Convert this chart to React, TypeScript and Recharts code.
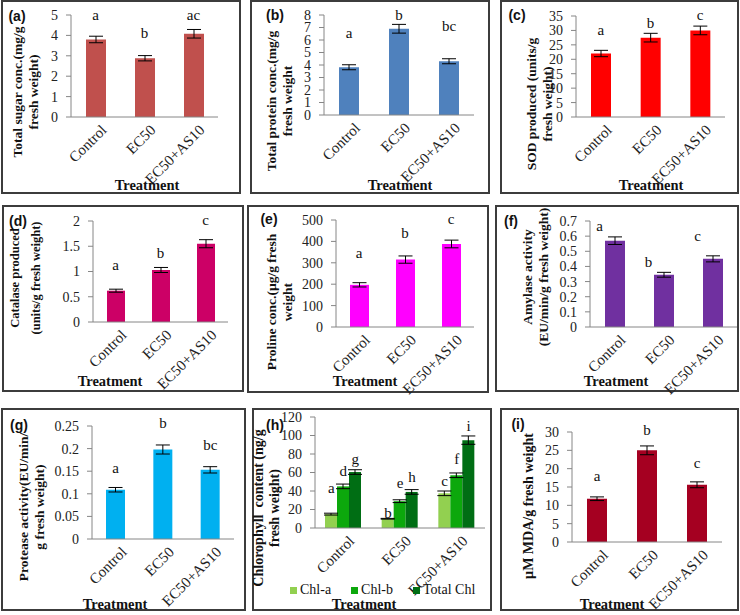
import React from 'react'
import { BarChart, Bar, XAxis, YAxis, ErrorBar, ReferenceDot } from 'recharts'

// 3x3 grid of small Excel-style bar charts (a)–(i), one per measurement.

const SERIF = '"Liberation Serif", "Times New Roman", Times, "DejaVu Serif", serif'
const SANS = '"Liberation Sans", Arial, sans-serif'
const AXIS = '#868686'

const TREATMENTS = ['Control', 'EC50', 'EC50+AS10']

// (a) total sugar
const SUGAR = [3.8, 2.88, 4.08]
const SUGAR_ERR = [0.16, 0.13, 0.21]
const SUGAR_LETTERS = ['a', 'b', 'ac']
const SUGAR_LETTER_AT = [5.0, 4.1, 5.0]
const SUGAR_TICKS = [0, 1, 2, 3, 4, 5]

// (b) total protein
const PROTEIN = [3.82, 6.9, 4.3]
const PROTEIN_ERR = [0.2, 0.35, 0.2]
const PROTEIN_LETTERS = ['a', 'b', 'bc']
const PROTEIN_LETTER_AT = [6.55, 8.0, 7.1]
const PROTEIN_TICKS = [0, 1, 2, 3, 4, 5, 6, 7, 8]

// (c) SOD
const SOD = [22, 27.5, 30]
const SOD_ERR = [1.1, 1.5, 1.5]
const SOD_LETTERS = ['a', 'b', 'c']
const SOD_LETTER_AT = [30.1, 32.6, 35.3]
const SOD_TICKS = [0, 5, 10, 15, 20, 25, 30, 35]

// (d) catalase
const CATALASE = [0.62, 1.03, 1.55]
const CATALASE_ERR = [0.03, 0.05, 0.08]
const CATALASE_LETTERS = ['a', 'b', 'c']
const CATALASE_LETTER_AT = [1.13, 1.37, 2.02]
const CATALASE_TICKS = [0, 0.5, 1, 1.5, 2]

// (e) proline
const PROLINE = [197, 315, 388]
const PROLINE_ERR = [10, 17, 18]
const PROLINE_LETTERS = ['a', 'b', 'c']
const PROLINE_LETTER_AT = [346, 439, 505]
const PROLINE_TICKS = [0, 100, 200, 300, 400, 500]

// (f) amylase
const AMYLASE = [0.57, 0.345, 0.45]
const AMYLASE_ERR = [0.025, 0.016, 0.02]
const AMYLASE_LETTERS = ['a', 'b', 'c']
const AMYLASE_LETTER_AT = [0.667, 0.43, 0.6]
const AMYLASE_TICKS = [0, 0.1, 0.2, 0.3, 0.4, 0.5, 0.6, 0.7]

// (g) protease
const PROTEASE = [0.109, 0.198, 0.153]
const PROTEASE_ERR = [0.005, 0.01, 0.007]
const PROTEASE_LETTERS = ['a', 'b', 'bc']
const PROTEASE_LETTER_AT = [0.157, 0.257, 0.208]
const PROTEASE_TICKS = [0, 0.05, 0.1, 0.15, 0.2, 0.25]

// (h) chlorophyll, three series
const CHL_A = [15, 10, 37.5]
const CHL_A_ERR = [1, 0.4, 2.5]
const CHL_A_LETTERS = ['a', 'b', 'c']
const CHL_A_LETTER_AT = [43, 16, 51]
const CHL_B = [45, 29, 57]
const CHL_B_ERR = [2.5, 1.5, 2.5]
const CHL_B_LETTERS = ['d', 'e', 'f']
const CHL_B_LETTER_AT = [62, 49, 75]
const CHL_T = [60.5, 39, 95]
const CHL_T_ERR = [2.5, 2.5, 4.5]
const CHL_T_LETTERS = ['g', 'h', 'i']
const CHL_T_LETTER_AT = [75, 55, 110]
const CHL_TICKS = [0, 20, 40, 60, 80, 100, 120]

// (i) MDA
const MDA = [11.8, 25, 15.6]
const MDA_ERR = [0.5, 1.2, 0.8]
const MDA_LETTERS = ['a', 'b', 'c']
const MDA_LETTER_AT = [18, 30.5, 21.5]
const MDA_TICKS = [0, 5, 10, 15, 20, 25, 30]

type Series = {
  key: string
  name: string
  values: number[]
  errors: number[]
  letters: string[]
  letterAt: number[]
  color: string
}

type Panel = {
  tag: string
  box: [number, number, number, number] // x, y, w, h (page)
  plot: [number, number, number, number] // x0, x1, yTop, yBottom (page)
  ticks: number[]
  series: Series[]
  barSize: number
  title: string[]
  titleAt: [number, number]
  titleGap?: number
  titleSize?: number
  tagAt: [number, number]
  treatAt: [number, number]
  letterDx?: number
  legendAt?: [number, number]
}

const one = (values: number[], errors: number[], letters: string[], letterAt: number[], color: string): Series[] => [
  { key: 'v', name: 'v', values, errors, letters, letterAt, color },
]

const PANELS: Panel[] = [
  {
    tag: '(a)', box: [1, 0, 240, 194], plot: [71, 218, 15, 117], ticks: SUGAR_TICKS,
    series: one(SUGAR, SUGAR_ERR, SUGAR_LETTERS, SUGAR_LETTER_AT, '#C0504D'), barSize: 20,
    title: ['Total sugar conc.(mg/g', 'fresh weight)'], titleAt: [26, 92], tagAt: [17, 16], treatAt: [147, 185],
  },
  {
    tag: '(b)', box: [250, 0, 240, 194], plot: [324, 474, 15, 115], ticks: PROTEIN_TICKS,
    series: one(PROTEIN, PROTEIN_ERR, PROTEIN_LETTERS, PROTEIN_LETTER_AT, '#4F81BD'), barSize: 20,
    title: ['Total protein conc.(mg/g', 'fresh weight'], titleAt: [280, 101], tagAt: [275, 15], treatAt: [400, 185],
  },
  {
    tag: '(c)', box: [500, 0, 239, 194], plot: [576, 725, 16, 117], ticks: SOD_TICKS,
    series: one(SOD, SOD_ERR, SOD_LETTERS, SOD_LETTER_AT, '#FF0000'), barSize: 20,
    title: ['SOD produced (units/g', 'fresh weight)'], titleAt: [540, 104], tagAt: [517, 15], treatAt: [651, 185],
  },
  {
    tag: '(d)', box: [2, 205, 242, 187], plot: [93, 228, 221, 322], ticks: CATALASE_TICKS,
    series: one(CATALASE, CATALASE_ERR, CATALASE_LETTERS, CATALASE_LETTER_AT, '#CC0066'), barSize: 18,
    title: ['Catalase produced', '(units/g fresh weight)'], titleAt: [26, 278], titleGap: 21, titleSize: 12.5,
    tagAt: [18, 221], treatAt: [110, 381],
  },
  {
    tag: '(e)', box: [247, 205, 242, 188], plot: [336, 474, 220, 327], ticks: PROLINE_TICKS,
    series: one(PROLINE, PROLINE_ERR, PROLINE_LETTERS, PROLINE_LETTER_AT, '#FF00FF'), barSize: 19,
    title: ['Proline conc.(µg/g fresh', 'weight'], titleAt: [280, 302], tagAt: [269, 219], treatAt: [365, 381],
  },
  {
    tag: '(f)', box: [495, 205, 244, 187], plot: [590, 737, 221, 327], ticks: AMYLASE_TICKS,
    series: one(AMYLASE, AMYLASE_ERR, AMYLASE_LETTERS, AMYLASE_LETTER_AT, '#7030A0'), barSize: 20,
    title: ['Amylase activity', '(EU/min/g fresh weight)'], titleAt: [536, 277], tagAt: [511, 221], treatAt: [616, 381],
    letterDx: -15,
  },
  {
    tag: '(g)', box: [1, 408, 245, 203], plot: [92, 234, 426, 539], ticks: PROTEASE_TICKS,
    series: one(PROTEASE, PROTEASE_ERR, PROTEASE_LETTERS, PROTEASE_LETTER_AT, '#00B0F0'), barSize: 19,
    title: ['Protease activity(EU/min/', 'g fresh weight)'], titleAt: [32, 507], tagAt: [19, 425], treatAt: [115, 604],
  },
  {
    tag: '(h)', box: [252, 408, 240, 203], plot: [315, 485, 417, 528], ticks: CHL_TICKS,
    series: [
      { key: 'a', name: 'Chl-a', values: CHL_A, errors: CHL_A_ERR, letters: CHL_A_LETTERS, letterAt: CHL_A_LETTER_AT, color: '#92D050' },
      { key: 'b', name: 'Chl-b', values: CHL_B, errors: CHL_B_ERR, letters: CHL_B_LETTERS, letterAt: CHL_B_LETTER_AT, color: '#0CA80C' },
      { key: 't', name: 'Total Chl', values: CHL_T, errors: CHL_T_ERR, letters: CHL_T_LETTERS, letterAt: CHL_T_LETTER_AT, color: '#006E14' },
    ],
    barSize: 12,
    title: ['Chlorophyll  content (ng/g', 'fresh weight)'], titleAt: [267, 508], titleSize: 14, tagAt: [275, 425], treatAt: [364, 604],
    legendAt: [290, 590],
  },
  {
    tag: '(i)', box: [500, 408, 239, 203], plot: [572, 722, 432, 542], ticks: MDA_TICKS,
    series: one(MDA, MDA_ERR, MDA_LETTERS, MDA_LETTER_AT, '#A50021'), barSize: 20,
    title: ['µM MDA/g fresh weight'], titleAt: [529, 506], titleSize: 14, tagAt: [518, 424], treatAt: [612, 604],
  },
]

const Y_W = 40
const X_H = 30

function AngledTick(props: any) {
  const { x, y, payload } = props
  return (
    <g transform={`translate(${x},${y})`}>
      <text x={4} y={-2} dy="0.75em" textAnchor="end" transform="rotate(-45 4 -2)"
        fontFamily={SERIF} fontSize={15} fill="#222">
        {payload.value}
      </text>
    </g>
  )
}

function letterLabel(text: string, dx: number) {
  return (p: any) => {
    const vb = p.viewBox || { x: 0, y: 0, width: 0, height: 0 }
    return (
      <text x={vb.x + vb.width / 2 + dx} y={vb.y + vb.height / 2} textAnchor="middle"
        dominantBaseline="central" fontFamily={SERIF} fontSize={15} fill="#111">
        {text}
      </text>
    )
  }
}

function ChartPanel({ p }: { p: Panel }) {
  const [bx, by, bw, bh] = p.box
  const [x0, x1, yTop, yBottom] = p.plot
  const rows = TREATMENTS.map((cat, i) => {
    const row: Record<string, any> = { cat }
    p.series.forEach((s) => {
      row[s.key] = s.values[i]
      row[s.key + 'Err'] = s.errors[i]
    })
    return row
  })
  const n = p.series.length
  const margin = {
    top: yTop - by,
    bottom: bh - (yBottom - by) - X_H,
    left: x0 - bx - Y_W,
    right: bw - (x1 - bx),
  }
  const abs = (x: number, y: number): React.CSSProperties => ({ position: 'absolute', left: x - bx, top: y - by })

  return (
    <div style={{ position: 'absolute', left: bx, top: by, width: bw, height: bh }}>
      <div style={{ position: 'absolute', inset: 0, border: '2px solid #3c3c3c', boxSizing: 'border-box' }} />
      <div style={{ position: 'absolute', left: 0, top: 0 }}>
        <BarChart width={bw} height={bh} data={rows} margin={margin} barGap={0} barSize={p.barSize}>
          <XAxis dataKey="cat" height={X_H} interval={0} tickLine={false}
            axisLine={{ stroke: AXIS }} tick={<AngledTick />} />
          <YAxis width={Y_W} type="number" domain={[0, p.ticks[p.ticks.length - 1]]} ticks={p.ticks}
            interval={0} axisLine={{ stroke: AXIS }} tickLine={{ stroke: AXIS }} tickSize={5} tickMargin={8}
            tick={{ fontSize: 14, fill: '#222', fontFamily: SERIF }} />
          {p.series.map((s) => (
            <Bar key={s.key} dataKey={s.key} name={s.name} fill={s.color} isAnimationActive={false}>
              <ErrorBar dataKey={s.key + 'Err'} width={7} stroke="#000" strokeWidth={1} direction="y" />
            </Bar>
          ))}
          {p.series.flatMap((s, si) =>
            TREATMENTS.map((cat, i) => (
              <ReferenceDot key={s.key + cat} x={cat} y={s.letterAt[i]} r={0} ifOverflow="visible"
                fill="none" stroke="none"
                label={letterLabel(s.letters[i], (si - (n - 1) / 2) * p.barSize + (p.letterDx ?? 0))} />
            )),
          )}
        </BarChart>
      </div>
      <div style={{
        ...abs(p.titleAt[0], p.titleAt[1]), transform: 'translate(-50%, -50%) rotate(-90deg)',
        whiteSpace: 'pre', textAlign: 'center', fontFamily: SERIF, fontWeight: 'bold',
        fontSize: p.titleSize ?? 13.5, lineHeight: `${p.titleGap ?? 16}px`, color: '#111',
      }}>
        {p.title.map((l) => <div key={l}>{l}</div>)}
      </div>
      <div style={{
        ...abs(p.tagAt[0], p.tagAt[1]), transform: 'translate(-50%, -50%)',
        fontFamily: SANS, fontWeight: 'bold', fontSize: 14, color: '#111', whiteSpace: 'nowrap',
      }}>
        {p.tag}
      </div>
      <div style={{
        ...abs(p.treatAt[0], p.treatAt[1]), transform: 'translate(-50%, -50%)',
        fontFamily: SERIF, fontWeight: 'bold', fontSize: 14.5, color: '#111', whiteSpace: 'nowrap',
      }}>
        Treatment
      </div>
      {p.legendAt && (
        <div style={{
          ...abs(p.legendAt[0], p.legendAt[1]), transform: 'translateY(-50%)', display: 'flex', gap: 20,
          alignItems: 'center', fontFamily: SERIF, fontSize: 14, lineHeight: '14px', color: '#111', whiteSpace: 'nowrap',
        }}>
          {p.series.map((s) => (
            <div key={s.key} style={{ display: 'flex', alignItems: 'center', gap: 3 }}>
              <span style={{ width: 7, height: 7, background: s.color, display: 'inline-block' }} />
              <span>{s.name}</span>
            </div>
          ))}
        </div>
      )}
    </div>
  )
}

export default function App() {
  return (
    <div style={{ position: 'absolute', left: 0, top: 0, width: 740, height: 615, background: '#fff', overflow: 'hidden' }}>
      <style>{'.recharts-surface { overflow: visible; }'}</style>
      {PANELS.map((p) => <ChartPanel key={p.tag} p={p} />)}
    </div>
  )
}
